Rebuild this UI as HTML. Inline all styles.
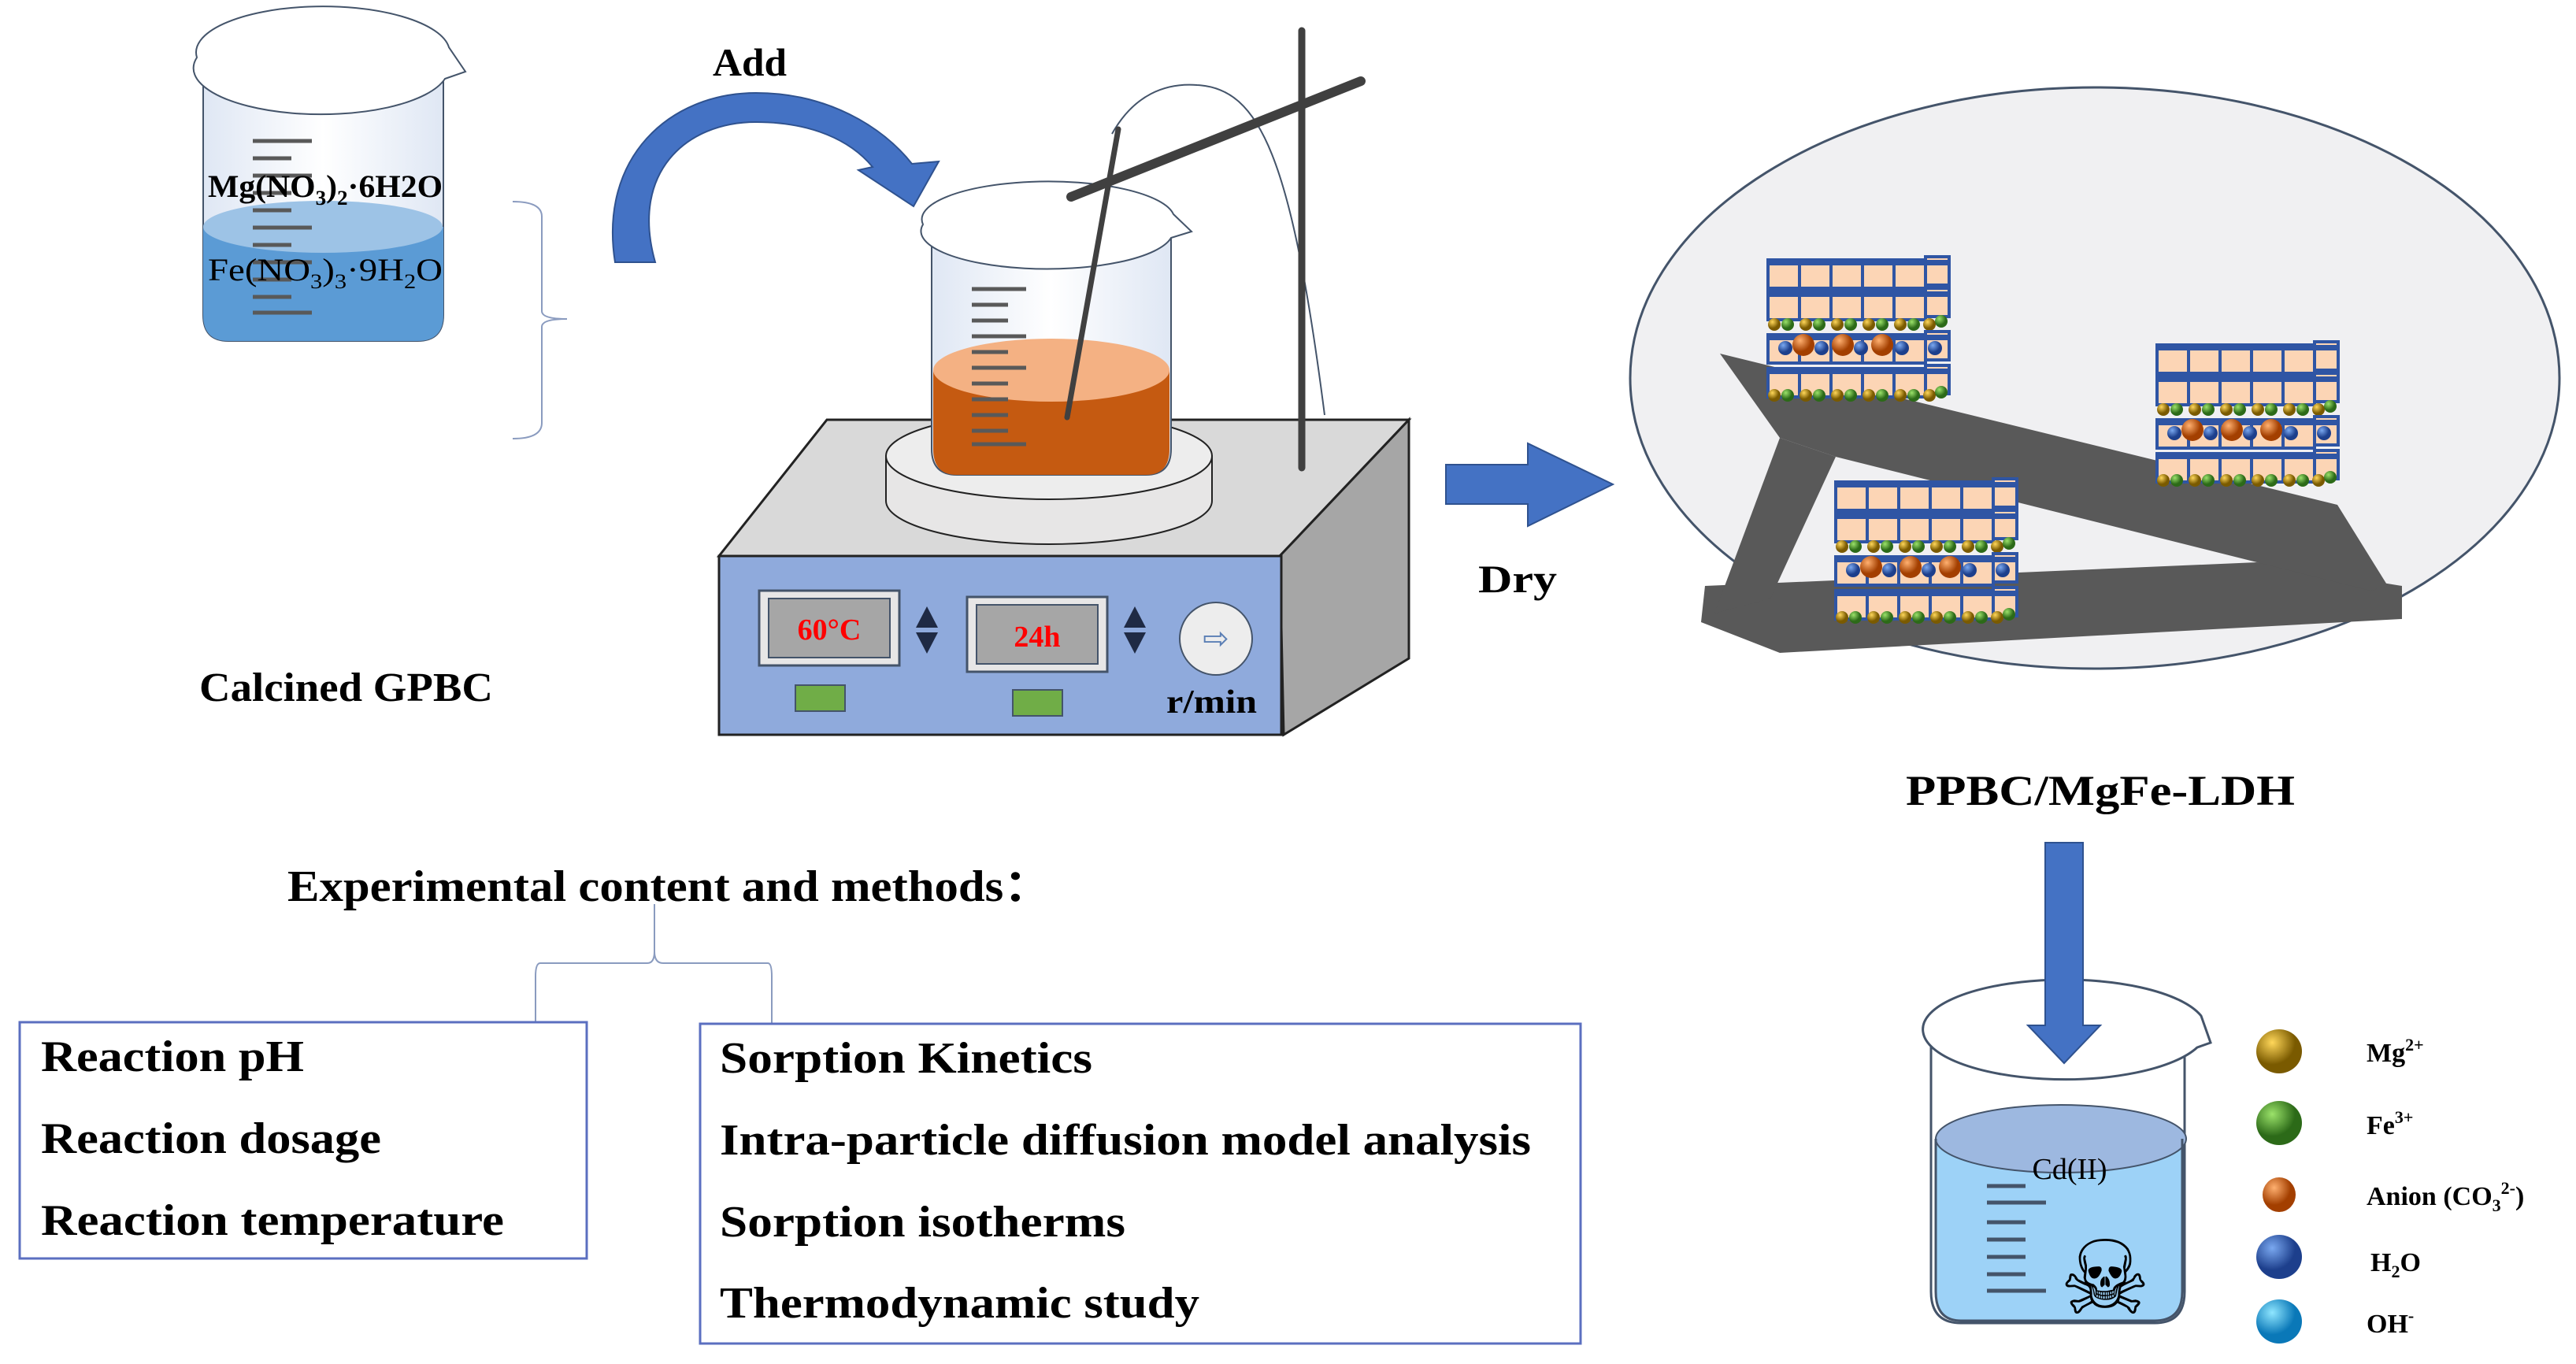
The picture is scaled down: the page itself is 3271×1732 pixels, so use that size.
<!DOCTYPE html>
<html><head><meta charset="utf-8"><style>
html,body{margin:0;padding:0;background:#fff;}
svg{display:block}
text{font-family:"Liberation Serif",serif;font-weight:bold;fill:#000}
</style></head><body>
<svg width="3271" height="1732" viewBox="0 0 3271 1732" xmlns="http://www.w3.org/2000/svg">
<defs>
<linearGradient id="glass" x1="0" x2="1"><stop offset="0" stop-color="#dfe7f4"/><stop offset="0.5" stop-color="#ffffff"/><stop offset="1" stop-color="#dfe7f4"/></linearGradient>
<radialGradient id="gy" cx="0.35" cy="0.3"><stop offset="0" stop-color="#ffd75a"/><stop offset="1" stop-color="#7a5a00"/></radialGradient>
<radialGradient id="gg" cx="0.35" cy="0.3"><stop offset="0" stop-color="#9be26a"/><stop offset="1" stop-color="#2c6a18"/></radialGradient>
<radialGradient id="go" cx="0.35" cy="0.3"><stop offset="0" stop-color="#ffb070"/><stop offset="1" stop-color="#a33f00"/></radialGradient>
<radialGradient id="gb" cx="0.35" cy="0.3"><stop offset="0" stop-color="#7aa8f0"/><stop offset="1" stop-color="#1d3f8c"/></radialGradient>
<radialGradient id="gc" cx="0.35" cy="0.3"><stop offset="0" stop-color="#8fe6ff"/><stop offset="1" stop-color="#0a78b8"/></radialGradient>
<g id="cubes">
  <rect x="0" y="0" width="40" height="36" fill="#fcd5b5" stroke="#2f55a4" stroke-width="4"/>
  <rect x="40" y="0" width="40" height="36" fill="#fcd5b5" stroke="#2f55a4" stroke-width="4"/>
  <rect x="80" y="0" width="40" height="36" fill="#fcd5b5" stroke="#2f55a4" stroke-width="4"/>
  <rect x="120" y="0" width="40" height="36" fill="#fcd5b5" stroke="#2f55a4" stroke-width="4"/>
  <rect x="160" y="0" width="40" height="36" fill="#fcd5b5" stroke="#2f55a4" stroke-width="4"/>
  <rect x="200" y="-4" width="30" height="36" fill="#fcd5b5" stroke="#2f55a4" stroke-width="4"/>
  <rect x="0" y="0" width="230" height="7" fill="#2f55a4"/>
</g>
<g id="balls">
  <circle cx="8" cy="0" r="8" fill="url(#gy)"/><circle cx="25" cy="0" r="8" fill="url(#gg)"/>
  <circle cx="48" cy="0" r="8" fill="url(#gy)"/><circle cx="65" cy="0" r="8" fill="url(#gg)"/>
  <circle cx="88" cy="0" r="8" fill="url(#gy)"/><circle cx="105" cy="0" r="8" fill="url(#gg)"/>
  <circle cx="128" cy="0" r="8" fill="url(#gy)"/><circle cx="145" cy="0" r="8" fill="url(#gg)"/>
  <circle cx="168" cy="0" r="8" fill="url(#gy)"/><circle cx="185" cy="0" r="8" fill="url(#gg)"/>
  <circle cx="205" cy="0" r="8" fill="url(#gy)"/><circle cx="220" cy="-4" r="8" fill="url(#gg)"/>
</g>
<g id="ldh">
  <use href="#cubes" y="0"/>
  <use href="#cubes" y="40"/>
  <use href="#balls" y="82"/>
  <use href="#cubes" y="95"/>
  <circle cx="22" cy="112" r="9" fill="url(#gb)"/><circle cx="45" cy="108" r="14" fill="url(#go)"/>
  <circle cx="68" cy="112" r="9" fill="url(#gb)"/><circle cx="95" cy="108" r="14" fill="url(#go)"/>
  <circle cx="118" cy="112" r="9" fill="url(#gb)"/><circle cx="145" cy="108" r="14" fill="url(#go)"/>
  <circle cx="170" cy="112" r="9" fill="url(#gb)"/><circle cx="212" cy="112" r="9" fill="url(#gb)"/>
  <use href="#cubes" y="138"/>
  <use href="#balls" y="172"/>
</g>
</defs>

<!-- left beaker -->
<path d="M258 100 L258 400 Q258 433 290 433 L530 433 Q563 433 563 400 L563 100 Z" fill="url(#glass)" stroke="#44546a" stroke-width="2"/>
<path d="M258 288 L258 400 Q258 433 290 433 L530 433 Q563 433 563 400 L563 288 Z" fill="#5b9bd5"/>
<ellipse cx="410" cy="288" rx="152" ry="33" fill="#9dc3e6"/>
<path d="M250 73 A160 58 0 0 1 570 60 L591 91 L565 100 A160 58 0 0 1 250 73 Z" fill="#fff" stroke="#44546a" stroke-width="2"/>
<g stroke="#595959" stroke-width="5">
<line x1="321" y1="179" x2="396" y2="179"/><line x1="321" y1="201" x2="370" y2="201"/><line x1="321" y1="223" x2="396" y2="223"/>
<line x1="321" y1="245" x2="370" y2="245"/><line x1="321" y1="267" x2="370" y2="267"/><line x1="321" y1="289" x2="396" y2="289"/>
<line x1="321" y1="311" x2="370" y2="311"/><line x1="321" y1="333" x2="396" y2="333"/><line x1="321" y1="355" x2="370" y2="355"/>
<line x1="321" y1="377" x2="370" y2="377"/><line x1="321" y1="397" x2="396" y2="397"/>
</g>
<text x="264" y="250" font-size="40" textLength="298" lengthAdjust="spacingAndGlyphs">Mg(NO<tspan font-size="26" dy="10">3</tspan><tspan dy="-10">)</tspan><tspan font-size="26" dy="10">2</tspan><tspan dy="-10">·6H2O</tspan></text>
<text x="264" y="356" font-size="40" style="font-weight:normal" fill="#1f3864" textLength="298" lengthAdjust="spacingAndGlyphs">Fe(NO<tspan font-size="26" dy="10">3</tspan><tspan dy="-10">)</tspan><tspan font-size="26" dy="10">3</tspan><tspan dy="-10">·9H</tspan><tspan font-size="26" dy="10">2</tspan><tspan dy="-10">O</tspan></text>
<!-- bracket -->
<path d="M651 256 Q688 256 688 275 L688 395 Q688 405 720 405 Q688 405 688 415 L688 537 Q688 557 651 557" fill="none" stroke="#8a9bbf" stroke-width="2"/>
<text x="253" y="890" font-size="52" textLength="373" lengthAdjust="spacingAndGlyphs">Calcined GPBC</text>

<!-- Add arrow -->
<text x="905" y="96" font-size="50" textLength="94" lengthAdjust="spacingAndGlyphs">Add</text>
<path d="M781 333 C760 200 850 118 960 118 C1050 118 1120 160 1158 208 L1192 205 L1160 262 L1090 216 L1108 212 C1080 178 1030 155 960 155 C870 155 800 220 832 333 Z" fill="#4472c4" stroke="#2f528f" stroke-width="2"/>

<!-- stirrer box -->
<polygon points="1050,533 1789,533 1625,706 913,706" fill="#d9d9d9" stroke="#222" stroke-width="3"/>
<polygon points="1625,706 1789,533 1789,836 1630,933" fill="#a6a6a6" stroke="#222" stroke-width="3"/>
<rect x="913" y="706" width="714" height="227" fill="#8faadc" stroke="#222" stroke-width="3"/>
<!-- disk -->
<path d="M1125 579 L1125 636 A207 55 0 0 0 1539 636 L1539 579 Z" fill="#e7e6e6" stroke="#222" stroke-width="2"/>
<ellipse cx="1332" cy="579" rx="207" ry="55" fill="#ededed" stroke="#222" stroke-width="2"/>
<!-- beaker -->
<path d="M1183 290 L1183 570 Q1183 603 1215 603 L1455 603 Q1487 603 1487 570 L1487 290 Z" fill="url(#glass)" stroke="#44546a" stroke-width="2"/>
<path d="M1185 470 L1185 570 Q1185 603 1215 603 L1455 603 Q1485 603 1485 570 L1485 470 Z" fill="#c55a11"/>
<ellipse cx="1335" cy="470" rx="150" ry="40" fill="#f4b183"/>
<path d="M1172 285 A160 48 0 0 1 1490 272 L1513 294 L1487 302 A160 48 0 0 1 1172 285 Z" fill="#fff" stroke="#44546a" stroke-width="2"/>
<g stroke="#595959" stroke-width="5">
<line x1="1234" y1="367" x2="1303" y2="367"/><line x1="1234" y1="387" x2="1280" y2="387"/><line x1="1234" y1="407" x2="1280" y2="407"/>
<line x1="1234" y1="427" x2="1303" y2="427"/><line x1="1234" y1="447" x2="1280" y2="447"/><line x1="1234" y1="467" x2="1303" y2="467"/>
<line x1="1234" y1="487" x2="1280" y2="487"/><line x1="1234" y1="507" x2="1280" y2="507"/><line x1="1234" y1="527" x2="1280" y2="527"/>
<line x1="1234" y1="547" x2="1280" y2="547"/><line x1="1234" y1="564" x2="1303" y2="564"/>
</g>
<!-- stand -->
<path d="M1412 170 C1440 120 1480 105 1520 108 C1600 112 1640 200 1682 527" fill="none" stroke="#44546a" stroke-width="2"/>
<line x1="1653" y1="39" x2="1653" y2="594" stroke="#404040" stroke-width="9" stroke-linecap="round"/>
<line x1="1360" y1="250" x2="1728" y2="103" stroke="#404040" stroke-width="12" stroke-linecap="round"/>
<line x1="1420" y1="164" x2="1355" y2="530" stroke="#404040" stroke-width="7" stroke-linecap="round"/>
<!-- panel -->
<rect x="964" y="750" width="178" height="95" fill="#e7e6e6" stroke="#44546a" stroke-width="3"/>
<rect x="976" y="760" width="154" height="75" fill="#a6a6a6" stroke="#44546a" stroke-width="2"/>
<text x="1053" y="812" font-size="38" style="fill:#ff0000" text-anchor="middle">60°C</text>
<rect x="1228" y="758" width="178" height="95" fill="#e7e6e6" stroke="#44546a" stroke-width="3"/>
<rect x="1240" y="768" width="154" height="75" fill="#a6a6a6" stroke="#44546a" stroke-width="2"/>
<text x="1317" y="821" font-size="38" style="fill:#ff0000" text-anchor="middle">24h</text>
<polygon points="1163,797 1177,770 1191,797" fill="#1f2a44"/><polygon points="1163,803 1177,830 1191,803" fill="#1f2a44"/>
<polygon points="1427,797 1441,770 1455,797" fill="#1f2a44"/><polygon points="1427,803 1441,830 1455,803" fill="#1f2a44"/>
<circle cx="1544" cy="811" r="46" fill="#ededed" stroke="#44546a" stroke-width="2"/>
<text x="1544" y="824" font-size="40" style="fill:#5b7fb5;font-family:'DejaVu Sans',sans-serif;font-weight:normal" text-anchor="middle">⇨</text>
<rect x="1010" y="870" width="63" height="33" fill="#70ad47" stroke="#44546a" stroke-width="2"/>
<rect x="1286" y="876" width="63" height="33" fill="#70ad47" stroke="#44546a" stroke-width="2"/>
<text x="1481" y="905" font-size="42" textLength="115" lengthAdjust="spacingAndGlyphs">r/min</text>

<!-- right arrow -->
<polygon points="1836,590 1940,590 1940,563 2048,615 1940,668 1940,640 1836,640" fill="#4472c4" stroke="#2f528f" stroke-width="2"/>
<text x="1877" y="752" font-size="50" textLength="100" lengthAdjust="spacingAndGlyphs">Dry</text>

<!-- ellipse -->
<ellipse cx="2660" cy="480" rx="590" ry="369" fill="#f0f0f2" stroke="#44546a" stroke-width="3"/>
<polygon points="2165,744 2866,714 3050,744 3050,786 2260,829 2160,790" fill="#595959"/>
<polygon points="2260,556 2331,580 2248,760 2177,779" fill="#595959"/>
<polygon points="2184,449 2968,641 3032,744 3010,750 2866,714 2331,580 2260,556" fill="#595959"/>
<use href="#ldh" x="2245" y="330"/>
<use href="#ldh" x="2739" y="438"/>
<use href="#ldh" x="2331" y="612"/>
<text x="2420" y="1022" font-size="54" textLength="494" lengthAdjust="spacingAndGlyphs">PPBC/MgFe-LDH</text>

<!-- bottom beaker -->
<path d="M2452 1318 L2452 1640 Q2452 1680 2490 1680 L2736 1680 Q2774 1680 2774 1640 L2774 1318" fill="#fff" stroke="#44546a" stroke-width="3"/>
<path d="M2458 1446 L2458 1640 Q2458 1677 2490 1677 L2736 1677 Q2771 1677 2771 1640 L2771 1446 Z" fill="#9dd2f7"/>
<ellipse cx="2617" cy="1446" rx="159" ry="43" fill="#9db8e0" stroke="#44546a" stroke-width="2"/>
<path d="M2442 1311 A180 63 0 0 1 2795 1290 L2807 1324 L2790 1330 A180 63 0 0 1 2442 1311 Z" fill="#fff" stroke="#44546a" stroke-width="3"/>
<path d="M2458 1446 L2458 1640 Q2458 1677 2490 1677 L2736 1677 Q2771 1677 2771 1640 L2771 1446" fill="none" stroke="#44546a" stroke-width="3"/>
<g stroke="#44546a" stroke-width="5">
<line x1="2523" y1="1506" x2="2572" y2="1506"/><line x1="2523" y1="1527" x2="2598" y2="1527"/><line x1="2523" y1="1552" x2="2572" y2="1552"/>
<line x1="2523" y1="1574" x2="2572" y2="1574"/><line x1="2523" y1="1596" x2="2572" y2="1596"/><line x1="2523" y1="1618" x2="2572" y2="1618"/>
<line x1="2523" y1="1639" x2="2598" y2="1639"/>
</g>
<text x="2628" y="1497" font-size="38" text-anchor="middle" style="font-weight:normal">Cd(II)</text>
<text x="2673" y="1668" font-size="130" text-anchor="middle" style="font-family:'DejaVu Sans',sans-serif;font-weight:normal">☠</text>
<!-- down arrow (on top) -->
<polygon points="2597,1070 2645,1070 2645,1302 2667,1302 2621,1350 2575,1302 2597,1302" fill="#4472c4" stroke="#2f528f" stroke-width="2"/>

<!-- legend -->
<ellipse cx="2894" cy="1335" rx="29" ry="28" fill="url(#gy)"/>
<ellipse cx="2894" cy="1426" rx="29" ry="28" fill="url(#gg)"/>
<ellipse cx="2894" cy="1517" rx="21" ry="22" fill="url(#go)"/>
<ellipse cx="2894" cy="1596" rx="29" ry="28" fill="url(#gb)"/>
<ellipse cx="2894" cy="1678" rx="29" ry="28" fill="url(#gc)"/>
<text x="3005" y="1348" font-size="34">Mg<tspan font-size="22" dy="-14">2+</tspan></text>
<text x="3005" y="1440" font-size="34">Fe<tspan font-size="22" dy="-14">3+</tspan></text>
<text x="3005" y="1530" font-size="34">Anion (CO<tspan font-size="22" dy="8">3</tspan><tspan font-size="22" dy="-22">2-</tspan><tspan dy="14">)</tspan></text>
<text x="3010" y="1614" font-size="34">H<tspan font-size="22" dy="8">2</tspan><tspan dy="-8">O</tspan></text>
<text x="3005" y="1692" font-size="34">OH<tspan font-size="22" dy="-14">-</tspan></text>

<!-- experimental -->
<text x="365" y="1144" font-size="56" textLength="970" lengthAdjust="spacingAndGlyphs">Experimental content and methods：</text>
<path d="M831 1148 L831 1208 Q831 1223 822 1223 L686 1223 Q680 1223 680 1240 L680 1297 M831 1208 Q831 1223 842 1223 L975 1223 Q980 1223 980 1240 L980 1299" fill="none" stroke="#8a9bbf" stroke-width="2"/>
<rect x="25" y="1298" width="720" height="300" fill="#fff" stroke="#5b6fc0" stroke-width="3"/>
<rect x="889" y="1300" width="1118" height="406" fill="#fff" stroke="#5b6fc0" stroke-width="3"/>
<text x="52" y="1360" font-size="56" textLength="334" lengthAdjust="spacingAndGlyphs">Reaction pH</text>
<text x="52" y="1464" font-size="56" textLength="432" lengthAdjust="spacingAndGlyphs">Reaction dosage</text>
<text x="52" y="1568" font-size="56" textLength="588" lengthAdjust="spacingAndGlyphs">Reaction temperature</text>
<text x="914" y="1362" font-size="56" textLength="473" lengthAdjust="spacingAndGlyphs">Sorption Kinetics</text>
<text x="914" y="1466" font-size="56" textLength="1030" lengthAdjust="spacingAndGlyphs">Intra-particle diffusion model analysis</text>
<text x="914" y="1570" font-size="56" textLength="515" lengthAdjust="spacingAndGlyphs">Sorption isotherms</text>
<text x="914" y="1673" font-size="56" textLength="609" lengthAdjust="spacingAndGlyphs">Thermodynamic study</text>
</svg>
</body></html>
